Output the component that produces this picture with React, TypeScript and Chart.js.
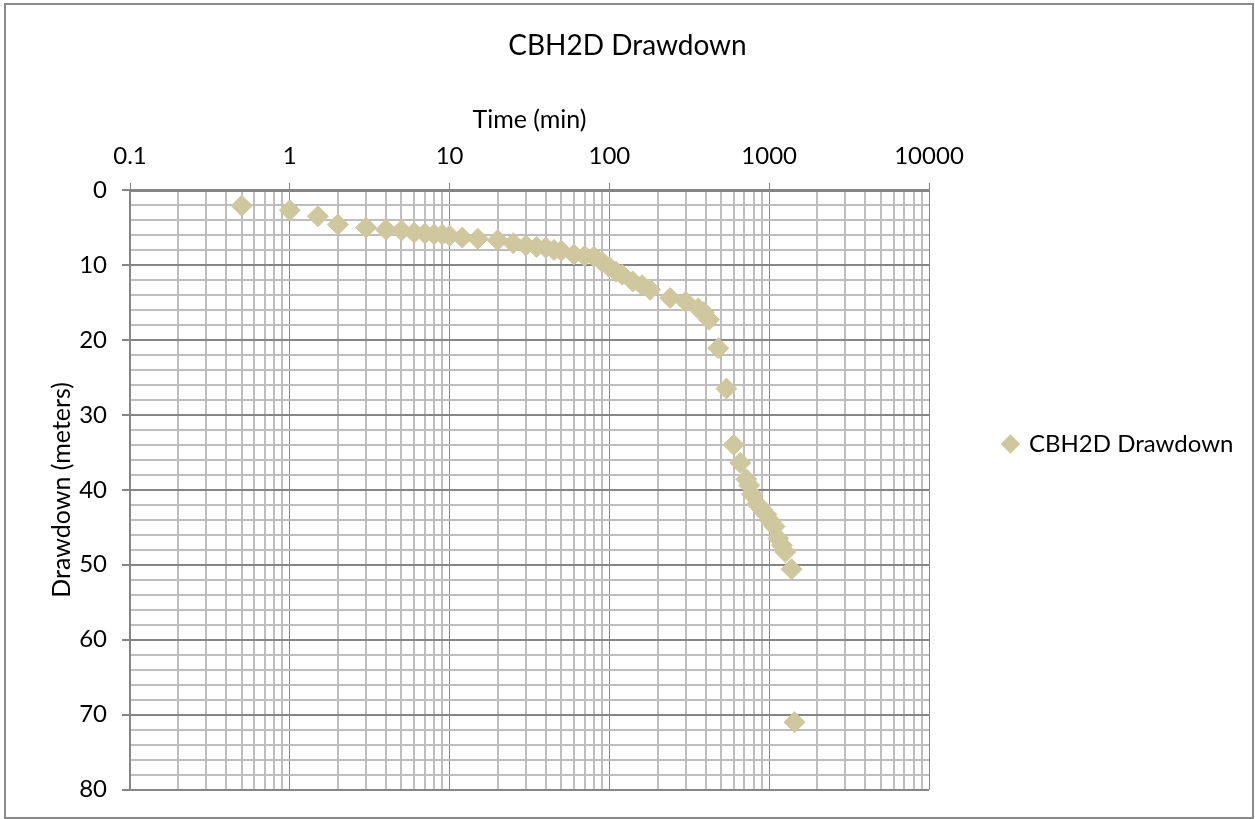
import React, { useEffect, useRef } from "react";
import { Chart, registerables } from "chart.js";

Chart.register(...registerables);

// ---- data ----
const timeMin = [
  0.5, 1, 1.5, 2, 3, 4, 5, 6, 7, 8, 9, 10, 12, 15, 20, 25, 30, 35, 40, 45, 50,
  60, 70, 80, 90, 100, 110, 120, 140, 160, 180, 240, 300, 360, 390, 420, 480,
  540, 600, 660, 720, 750, 780, 840, 900, 960, 1020, 1080, 1140, 1200, 1260,
  1380, 1440,
];
const drawdownM = [
  2.1, 2.7, 3.5, 4.6, 5.0, 5.3, 5.4, 5.7, 5.8, 5.9, 5.95, 6.1, 6.35, 6.5, 6.7,
  7.1, 7.4, 7.6, 7.7, 8.0, 8.1, 8.6, 8.8, 8.9, 9.6, 10.3, 10.9, 11.3, 12.2,
  12.7, 13.3, 14.4, 14.9, 15.8, 16.3, 17.3, 21.1, 26.5, 34.0, 36.4, 38.6, 39.4,
  40.6, 41.9, 42.6, 43.3, 44.2, 44.9, 46.5, 47.4, 48.3, 50.6, 71.0,
];
const xMajorTicks = [0.1, 1, 10, 100, 1000, 10000];
const xTickLabels = ["0.1", "1", "10", "100", "1000", "10000"];
const yMajorTicks = [0, 10, 20, 30, 40, 50, 60, 70, 80];
const yTickLabels = ["0", "10", "20", "30", "40", "50", "60", "70", "80"];
const seriesName = "CBH2D Drawdown";
const chartTitle = "CBH2D Drawdown";
const xTitle = "Time (min)";
const yTitle = "Drawdown (meters)";

const FONT = "Lato, 'Open Sans', sans-serif";
const MARKER = "#CFC79D";
const MAJOR = "#868686";
const MINOR = "#bebebe";

function majorIndexX(v: number) {
  return xMajorTicks.findIndex((m) => Math.abs(v - m) / m < 1e-6);
}

const framePlugin = {
  id: "frame",
  afterDraw(chart: any) {
    const ctx = chart.ctx;
    ctx.save();
    ctx.strokeStyle = "#8a8a8a";
    ctx.lineWidth = 2;
    ctx.strokeRect(5, 4, 1248, 814);
    ctx.restore();
  },
};

const legendPlacer = {
  id: "legendPlacer",
  afterLayout(chart: any) {
    const lg = chart.legend;
    if (!lg) return;
    const w = lg.width;
    lg.left = 994;
    lg.right = 994 + w;
    lg.top = 404;
    lg.bottom = 484;
    lg.height = 80;
  },
};

export default function App() {
  const ref = useRef<HTMLCanvasElement | null>(null);
  useEffect(() => {
    if (!ref.current) return;
    const xAllTicks: number[] = [];
    xMajorTicks.forEach((m, i) => {
      xAllTicks.push(m);
      if (i < xMajorTicks.length - 1) {
        for (let k = 2; k <= 9; k++) xAllTicks.push(m * k);
      }
    });
    const chart = new Chart(ref.current, {
      type: "scatter",
      data: {
        datasets: [
          {
            label: seriesName,
            data: timeMin.map((t, i) => ({ x: t, y: drawdownM[i] })),
            backgroundColor: MARKER,
            borderColor: MARKER,
            borderWidth: 1,
            pointStyle: "rectRot",
            pointRadius: 10.5,
            pointHoverRadius: 10.5,
            showLine: false,
          },
        ],
      },
      options: {
        animation: false,
        responsive: false,
        events: [],
        layout: { padding: { left: 0, top: 0, right: 0, bottom: 29 } },
        plugins: {
          title: {
            display: true,
            text: chartTitle,
            color: "#000",
            font: { family: FONT, size: 28, weight: "normal" },
            padding: { top: 29, bottom: 10 },
          },
          legend: {
            display: true,
            position: "chartArea" as any,
            align: "center",
            labels: {
              usePointStyle: true,
              boxWidth: 13,
              boxHeight: 13,
              color: "#000",
              font: { family: FONT, size: 24 },
            },
          },
          tooltip: { enabled: false },
        },
        scales: {
          x: {
            type: "logarithmic",
            position: "top",
            min: 0.1,
            max: 10000,
            afterBuildTicks: (scale: any) => {
              scale.ticks = xAllTicks.map((v) => ({ value: v }));
            },
            afterFit: (scale: any) => {
              scale.height = 117.4;
            },
            ticks: {
              autoSkip: false,
              maxRotation: 0,
              padding: 12,
              color: "#000",
              font: { family: FONT, size: 24 },
              callback: (v: any) => {
                const i = majorIndexX(Number(v));
                return i >= 0 ? xTickLabels[i] : "";
              },
            },
            grid: {
              drawTicks: true,
              tickLength: 7,
              color: (c: any) => (c.tick && majorIndexX(c.tick.value) >= 0 ? MAJOR : MINOR),
              lineWidth: (c: any) => (c.tick && majorIndexX(c.tick.value) >= 0 ? 1 : 2),
              tickColor: (c: any) =>
                c.tick && majorIndexX(c.tick.value) >= 0 ? MAJOR : "rgba(0,0,0,0)",
              tickWidth: 1,
            },
            border: { display: true, color: MAJOR, width: 3 },
            title: {
              display: true,
              text: xTitle,
              color: "#000",
              font: { family: FONT, size: 25 },
              padding: { top: 32.4, bottom: 0 },
            },
          },
          y: {
            type: "linear",
            reverse: true,
            min: 0,
            max: 80,
            afterFit: (scale: any) => {
              scale.width = 130;
            },
            ticks: {
              stepSize: 2,
              autoSkip: false,
              padding: 15,
              color: "#000",
              font: { family: FONT, size: 24 },
              callback: (v: any) => {
                const i = yMajorTicks.indexOf(Number(v));
                return i >= 0 ? yTickLabels[i] : "";
              },
            },
            grid: {
              drawTicks: true,
              tickLength: 8,
              color: (c: any) => (c.tick && c.tick.value % 10 === 0 ? MAJOR : MINOR),
              lineWidth: 2,
              tickColor: (c: any) =>
                c.tick && c.tick.value % 10 === 0 ? MAJOR : "rgba(0,0,0,0)",
              tickWidth: 2,
            },
            border: { display: true, color: MAJOR, width: 2 },
            title: {
              display: true,
              text: yTitle,
              color: "#000",
              font: { family: FONT, size: 25 },
              padding: { top: 47, bottom: 0 },
            },
          },
          // empty right-hand spacer that reserves the legend's room
          ySpacer: {
            type: "linear",
            position: "right",
            min: 0,
            max: 80,
            display: true,
            afterFit: (scale: any) => {
              scale.width = 326;
            },
            ticks: { display: false },
            grid: { display: false, drawTicks: false },
            border: { display: false },
            title: { display: false },
          },
        },
      },
      plugins: [legendPlacer, framePlugin],
    } as any);
    return () => chart.destroy();
  }, []);
  return (
    <div style={{ position: "absolute", left: 0, top: 0, width: 1255, height: 819, background: "#fff" }}>
      <canvas ref={ref} width={1255} height={819} style={{ width: 1255, height: 819, display: "block" }} />
    </div>
  );
}
